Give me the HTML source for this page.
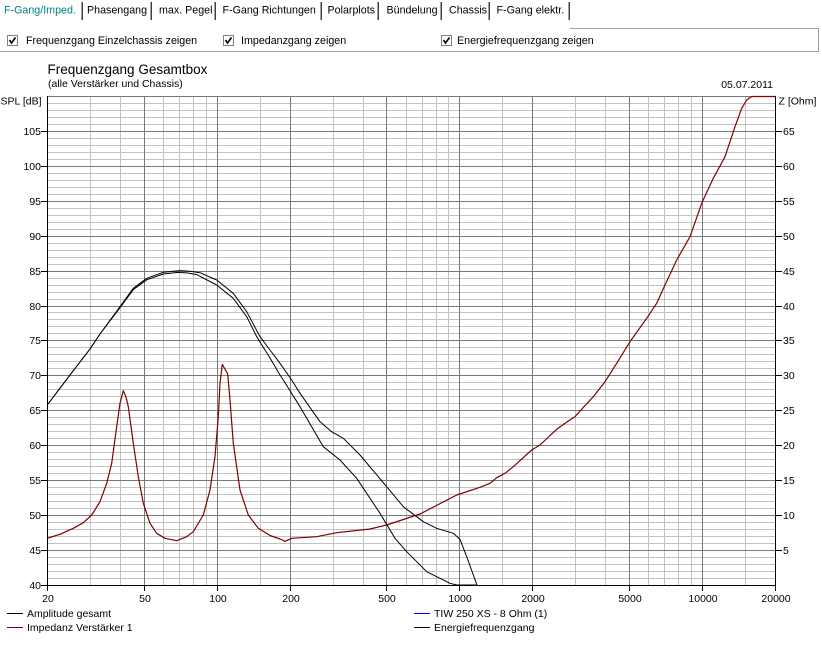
<!DOCTYPE html>
<html><head><meta charset="utf-8"><style>
html,body{margin:0;padding:0;background:#fff;}
svg{display:block;font-family:"Liberation Sans",Arial,sans-serif;}
</style></head><body>
<svg width="822" height="646" viewBox="0 0 822 646" xmlns="http://www.w3.org/2000/svg">
<rect width="822" height="646" fill="#fff"/>
<!-- Tabs -->
<g font-size="10.7">
<text x="4" y="13.5" fill="#008080">F-Gang/Imped.</text>
<text x="87" y="13.5">Phasengang</text>
<text x="159" y="13.5">max. Pegel</text>
<text x="222.5" y="13.5">F-Gang Richtungen</text>
<text x="327.5" y="13.5">Polarplots</text>
<text x="386.5" y="13.5">Bündelung</text>
<text x="449" y="13.5">Chassis</text>
<text x="496.5" y="13.5">F-Gang elektr.</text>
</g>
<g shape-rendering="crispEdges">
<rect x="81" y="2" width="1" height="18" fill="#a0a0a0"/><rect x="82" y="2" width="1" height="18" fill="#404040"/>
<rect x="150" y="2" width="1" height="18" fill="#a0a0a0"/><rect x="151" y="2" width="1" height="18" fill="#404040"/>
<rect x="214" y="2" width="1" height="18" fill="#a0a0a0"/><rect x="215" y="2" width="1" height="18" fill="#404040"/>
<rect x="320" y="2" width="1" height="18" fill="#a0a0a0"/><rect x="321" y="2" width="1" height="18" fill="#404040"/>
<rect x="377" y="2" width="1" height="18" fill="#a0a0a0"/><rect x="378" y="2" width="1" height="18" fill="#404040"/>
<rect x="440" y="2" width="1" height="18" fill="#a0a0a0"/><rect x="441" y="2" width="1" height="18" fill="#404040"/>
<rect x="488" y="2" width="1" height="18" fill="#a0a0a0"/><rect x="489" y="2" width="1" height="18" fill="#404040"/>
<rect x="568" y="2" width="1" height="18" fill="#a0a0a0"/><rect x="569" y="2" width="1" height="18" fill="#404040"/>
<!-- checkbox frame -->
<rect x="0" y="51" width="819" height="1" fill="#a0a0a0"/>
<rect x="818" y="28" width="1" height="24" fill="#a0a0a0"/>
<rect x="570" y="28" width="249" height="1" fill="#a0a0a0"/>
</g>
<!-- checkboxes -->
<g shape-rendering="crispEdges">
<rect x="7.5" y="35.5" width="10" height="10" fill="#fff" stroke="#808080"/>
<rect x="223.5" y="35.5" width="10" height="10" fill="#fff" stroke="#808080"/>
<rect x="441.5" y="35.5" width="10" height="10" fill="#fff" stroke="#808080"/>
</g>
<g fill="none" stroke="#000" stroke-width="1.6">
<path d="M9.5 40 L11.5 43 L15.5 37.5"/>
<path d="M225.5 40 L227.5 43 L231.5 37.5"/>
<path d="M443.5 40 L445.5 43 L449.5 37.5"/>
</g>
<g font-size="10.7">
<text x="26" y="44">Frequenzgang Einzelchassis zeigen</text>
<text x="241" y="44">Impedanzgang zeigen</text>
<text x="457" y="44">Energiefrequenzgang zeigen</text>
</g>
<!-- titles -->
<text x="47.5" y="74" font-size="13.5">Frequenzgang Gesamtbox</text>
<text x="48" y="87" font-size="10.5">(alle Verstärker und Chassis)</text>
<text x="773" y="88" font-size="10.5" text-anchor="end">05.07.2011</text>
<text x="0.5" y="104.5" font-size="10.5">SPL [dB]</text>
<text x="778.5" y="104.5" font-size="10.5">Z [Ohm]</text>

<!-- grid -->
<g shape-rendering="crispEdges" stroke-width="1" fill="none">
<path stroke="#c4c0c8" d="M47 578.5H775M47 571.5H775M47 564.5H775M47 557.5H775
M47 543.5H775M47 536.5H775M47 529.5H775M47 522.5H775
M47 508.5H775M47 501.5H775M47 494.5H775M47 487.5H775
M47 473.5H775M47 466.5H775M47 459.5H775M47 452.5H775
M47 438.5H775M47 431.5H775M47 424.5H775M47 417.5H775
M47 403.5H775M47 396.5H775M47 389.5H775M47 382.5H775
M47 368.5H775M47 361.5H775M47 354.5H775M47 347.5H775
M47 333.5H775M47 326.5H775M47 319.5H775M47 312.5H775
M47 299.5H775M47 292.5H775M47 285.5H775M47 278.5H775
M47 264.5H775M47 257.5H775M47 250.5H775M47 243.5H775
M47 229.5H775M47 222.5H775M47 215.5H775M47 208.5H775
M47 194.5H775M47 187.5H775M47 180.5H775M47 173.5H775
M47 159.5H775M47 152.5H775M47 145.5H775M47 138.5H775
M47 124.5H775M47 117.5H775M47 110.5H775M47 103.5H775"/>
<path stroke="#bcc4bc" d="M90.5 96V585M120.5 96V585M163.5 96V585M179.5 96V585M193.5 96V585M206.5 96V585
M260.5 96V585M333.5 96V585M363.5 96V585M406.5 96V585M422.5 96V585M436.5 96V585M448.5 96V585
M502.5 96V585M575.5 96V585M605.5 96V585M648.5 96V585M664.5 96V585M678.5 96V585M691.5 96V585M745.5 96V585"/>
<path stroke="#787878" d="M47 550.5H775M47 515.5H775M47 480.5H775M47 445.5H775M47 410.5H775M47 375.5H775M47 340.5H775M47 306.5H775M47 271.5H775M47 236.5H775M47 201.5H775M47 166.5H775M47 131.5H775M47 96.5H775"/>
<path stroke="#787878" d="M144.5 96V585M217.5 96V585M290.5 96V585M386.5 96V585M459.5 96V585M532.5 96V585M629.5 96V585M702.5 96V585"/>
<!-- axes -->
<path stroke="#000" d="M47.5 96V586M775.5 96V586M47 585.5H776"/>
<!-- left ticks -->
<path stroke="#000" d="M41 585.5H47M41 550.5H47M41 515.5H47M41 480.5H47M41 445.5H47M41 410.5H47M41 375.5H47M41 340.5H47M41 306.5H47M41 271.5H47M41 236.5H47M41 201.5H47M41 166.5H47M41 131.5H47"/>
<!-- right ticks -->
<path stroke="#000" d="M776 550.5H782M776 515.5H782M776 480.5H782M776 445.5H782M776 410.5H782M776 375.5H782M776 340.5H782M776 306.5H782M776 271.5H782M776 236.5H782M776 201.5H782M776 166.5H782M776 131.5H782"/>
<!-- bottom ticks -->
<path stroke="#000" d="M47.5 586V591M144.5 586V591M217.5 586V591M290.5 586V591M386.5 586V591M459.5 586V591M532.5 586V591M629.5 586V591M702.5 586V591M775.5 586V591"/>
</g>

<!-- axis labels -->
<g font-size="10.5" text-anchor="end">
<text x="41" y="589">40</text>
<text x="41" y="554">45</text>
<text x="41" y="519">50</text>
<text x="41" y="484">55</text>
<text x="41" y="449">60</text>
<text x="41" y="414">65</text>
<text x="41" y="379">70</text>
<text x="41" y="344">75</text>
<text x="41" y="310">80</text>
<text x="41" y="275">85</text>
<text x="41" y="240">90</text>
<text x="41" y="205">95</text>
<text x="41" y="170">100</text>
<text x="41" y="135">105</text>
</g>
<g font-size="10.5">
<text x="783" y="554">5</text>
<text x="783" y="519">10</text>
<text x="783" y="484">15</text>
<text x="783" y="449">20</text>
<text x="783" y="414">25</text>
<text x="783" y="379">30</text>
<text x="783" y="344">35</text>
<text x="783" y="310">40</text>
<text x="783" y="275">45</text>
<text x="783" y="240">50</text>
<text x="783" y="205">55</text>
<text x="783" y="170">60</text>
<text x="783" y="135">65</text>
</g>
<g font-size="10.5" text-anchor="middle">
<text x="48" y="602">20</text>
<text x="145" y="602">50</text>
<text x="218" y="602">100</text>
<text x="291" y="602">200</text>
<text x="387" y="602">500</text>
<text x="460" y="602">1000</text>
<text x="533" y="602">2000</text>
<text x="630" y="602">5000</text>
<text x="703" y="602">10000</text>
<text x="776" y="602">20000</text>
</g>

<!-- curves -->
<defs><clipPath id="pc"><rect x="47" y="95" width="729" height="491"/></clipPath></defs>
<g clip-path="url(#pc)" fill="none" stroke-linejoin="round">
<polyline stroke="#800000" stroke-width="1.2" points="48,538 60,534.3 73.3,528.3 83.3,522.7 91.7,515 100,501.7 106.7,483.3 111.7,463.3 116.7,426.7 120,403.3 123.3,390.7 126,397 128.3,406.7 133.3,443.3 138.3,476.7 143.3,503.3 150,523.3 156.7,533.3 165,538.3 176.7,540.7 186.7,536.7 193.3,531.7 203.3,515 210,490 215,456.7 218.3,416.7 220,383.3 222.3,364.3 227.7,374 230,400 233.3,443.3 240,490 248.3,515 258.3,528.3 270,535.5 280,539 285,541.3 291.7,538.3 316.7,536.7 336.7,532.7 370,529 386.7,525 420,514 456.7,495 480,487.3 490,483.3 496.7,477.7 505,473.3 513.3,466.7 531.7,450 540,445 556.7,429.3 568.3,421 575,416.7 580,411 593.3,396.7 605,381.7 616.7,363.3 630,341.7 646.7,318.3 656.7,303.3 665,285 676.7,260 690,236.7 701.7,203.3 713.3,178.3 725,156.7 735,126.7 741.7,108.3 746.7,100 751.7,96.5 776,96.5"/>
<polyline stroke="#000" stroke-width="1" points="48,404 70,375 90,349 100,334 120,306.7 133.3,288.3 146.7,278.3 163.3,272.3 180,270.6 190,271.2 200,272.7 216.7,280 233.3,293.3 246.7,311.7 260,336.7 270,350 280,363.3 291.7,380 300,393.3 320,421.7 331.7,431.7 343.3,438.3 360,455 386.7,486.7 403.3,506.7 423.3,521.7 436.7,528.3 453.3,533.3 460,539.3 466.7,556.7 477.3,586"/>
<polyline stroke="#000" stroke-width="1" points="48,404 70,375 90,349 100,334 120,307.7 133.3,289.6 146.7,279.8 163.3,274 178,272.4 188,273 196.7,274.6 216.7,285 233.3,298.3 246.7,316.7 256.7,336.7 270,358 280,375 283.3,380 300,406.7 323.3,446.7 340,460 356.7,478.3 380,513.3 395,538.3 406.7,551.7 426.7,571.7 450,583.3 456.7,585 477,585"/>
</g>

<!-- legend -->
<g shape-rendering="crispEdges">
<rect x="7" y="613" width="16" height="1" fill="#000"/>
<rect x="7" y="627" width="16" height="1" fill="#800000"/>
<rect x="414" y="613" width="16" height="1" fill="#0000ff"/>
<rect x="414" y="627" width="16" height="1" fill="#000"/>
</g>
<g font-size="10.5">
<text x="27" y="617">Amplitude gesamt</text>
<text x="27" y="631">Impedanz Verstärker 1</text>
<text x="434" y="617">TIW 250 XS - 8 Ohm (1)</text>
<text x="434" y="631">Energiefrequenzgang</text>
</g>
</svg>
</body></html>
